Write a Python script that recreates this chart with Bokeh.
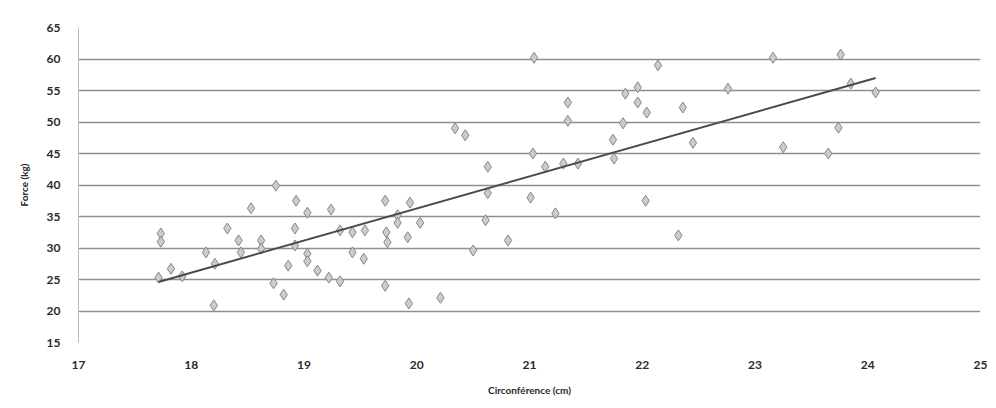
import numpy as np
from bokeh.plotting import figure
from bokeh.models import ColumnDataSource, FixedTicker
from bokeh.embed import file_html
from bokeh.resources import INLINE

# Circumference (cm) and force (kg)
circ = [17.73, 17.73, 17.71, 17.82, 17.92, 18.13, 18.21, 18.20, 18.32, 18.42,
        18.44, 18.53, 18.62, 18.62, 18.75, 18.73, 18.82, 18.93, 18.92, 18.92,
        19.03, 19.03, 19.03, 18.86, 19.12, 19.22, 19.24, 19.32, 19.32, 19.43,
        19.54, 19.43, 19.53, 19.72, 19.73, 19.74, 19.72, 19.83, 19.83, 19.92,
        19.94, 20.03, 19.93, 20.21, 20.34, 20.43, 20.50, 20.61, 20.63, 20.63,
        20.81, 21.01, 21.03, 21.04, 21.14, 21.23, 21.30, 21.34, 21.34, 21.43,
        21.74, 21.75, 21.83, 21.85, 21.96, 21.96, 22.04, 22.03, 22.14, 22.32,
        22.36, 22.45, 22.76, 23.16, 23.25, 23.65, 23.74, 23.76, 23.85, 24.07]
force = [32.3, 31.0, 25.3, 26.7, 25.5, 29.3, 27.5, 20.9, 33.1, 31.2,
         29.3, 36.3, 31.2, 29.9, 39.9, 24.4, 22.6, 37.5, 33.1, 30.4,
         35.6, 29.1, 27.9, 27.2, 26.4, 25.3, 36.1, 24.7, 32.8, 32.5,
         32.8, 29.3, 28.3, 37.5, 32.5, 30.9, 24.0, 35.2, 34.0, 31.7,
         37.2, 34.0, 21.2, 22.1, 49.0, 47.9, 29.6, 34.4, 38.7, 42.9,
         31.2, 38.0, 45.0, 60.2, 42.9, 35.5, 43.4, 53.1, 50.2, 43.4,
         47.2, 44.2, 49.8, 54.5, 55.5, 53.1, 51.5, 37.5, 59.0, 32.0,
         52.3, 46.7, 55.3, 60.2, 46.0, 45.0, 49.1, 60.7, 56.1, 54.7]

x_ticks = [17, 18, 19, 20, 21, 22, 23, 24, 25]
y_ticks = [15, 20, 25, 30, 35, 40, 45, 50, 55, 60, 65]

FONT = "Lato"

p = figure(width=996, height=408, x_range=(17, 25), y_range=(15, 65),
           output_backend="svg", toolbar_location=None,
           min_border_left=78, min_border_right=16,
           min_border_top=27, min_border_bottom=66)
p.outline_line_color = None
p.background_fill_color = "white"
p.border_fill_color = "white"

p.xgrid.grid_line_color = None
p.ygrid.grid_line_color = "#8f8f8f"
p.ygrid.grid_line_width = 1.5

p.xaxis.ticker = FixedTicker(ticks=x_ticks)
p.yaxis.ticker = FixedTicker(ticks=y_ticks)
for ax in (p.xaxis, p.yaxis):
    ax.major_tick_line_color = None
    ax.minor_tick_line_color = None
    ax.major_label_text_font = FONT
    ax.major_label_text_font_style = "bold"
    ax.major_label_text_font_size = "12px"
    ax.major_label_text_color = "#2a2a2a"
    ax.axis_label_text_font = FONT
    ax.axis_label_text_font_style = "bold"
    ax.axis_label_text_font_size = "10px"
    ax.axis_label_text_color = "#2a2a2a"
p.xaxis.axis_line_color = None
p.yaxis.axis_line_color = "#bbbbbb"
p.xaxis.major_label_standoff = 12
p.yaxis.major_label_standoff = 12
p.xaxis.axis_label = "Circonférence (cm)"
p.yaxis.axis_label = "Force (kg)"
p.xaxis.axis_label_standoff = 12
p.yaxis.axis_label_standoff = 14

src = ColumnDataSource(dict(x=circ, y=force))
p.scatter("x", "y", source=src, marker="diamond", size=11,
          fill_color="#cccccc", line_color="#858585", line_width=1)

# linear trend line fitted to the data
a, b = np.polyfit(circ, force, 1)
xs = [min(circ), max(circ)]
p.line(xs, [a * v + b for v in xs], line_color="#4a4a4a", line_width=2)

open("out.html", "w").write(file_html(p, INLINE))
